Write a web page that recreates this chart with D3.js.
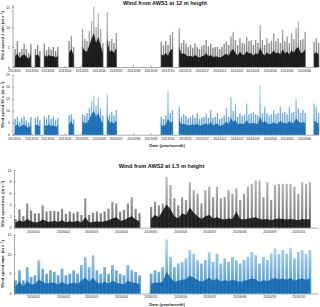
<!DOCTYPE html>
<html lang="en">
<head>
<meta charset="UTF-8">
<title>Wind AWS1 / AWS2</title>
<script src="https://cdnjs.cloudflare.com/ajax/libs/d3/7.8.5/d3.min.js"></script>
<style>
  body{margin:0;background:#fff;}
  svg{display:block;font-family:"Liberation Sans",Arial,sans-serif;}
  .tick text{fill:#262626;font-size:3.6px;font-family:"Liberation Sans",Arial,sans-serif;}
  .domain{stroke:#555;stroke-width:0.5;}
  .tick line{stroke:#555;stroke-width:0.5;}
</style>
</head>
<body>
<svg id="chart" width="320" height="307"></svg>
<script>
// values are per 4-day bin, null = no data
var binDays = 4;
var aws1Start = "2013-01-01";
var aws2Start = "2015-12-12";

// AWS1, 1 min wind speed: peak of the bin and the dense core
var aws1Min1Peak = [4.5,6.5,3.8,4.5,5.8,4.5,3.5,5.8,null,4.5,5.5,4.0,null,
  5.9,4.2,5.0,4.3,5.0,4.0,5.0,null,null,null,null,
  6.5,7.8,5.0,null,null,null,
  9.5,7.0,6.5,9.0,11.5,15.0,10.0,13.5,9.5,6.0,null,
  13.8,6.5,7.0,6.0,8.5,
  null,null,null,null,null,null,null,null,null,null,null,null,null,null,null,null,null,null,null,
  6.3,5.5,6.5,5.5,8.0,8.8,null,null,
  9.7,6.0,6.75,5.9,5.0,5.5,4.8,5.9,5.0,4.5,5.2,5.5,6.75,5.2,5.9,4.8,5.0,5.0,4.5,5.0,
  5.8,6.3,5.5,7.6,8.8,6.75,5.5,7.2,6.0,5.9,7.6,6.5,6.75,5.5,6.75,6.0,10.5,6.75,5.5,7.2,
  6.0,6.5,8.4,6.5,7.2,6.0,9.25,6.5,7.6,6.0,8.4,7.0,9.7,11.3,6.75,7.0,8.8,
  null,null,null,
  6.3,7.2,6.0];
var aws1Min1Core = [2.5,3.5,2.2,2.8,3.2,2.6,2.0,3.2,null,2.8,3.2,2.4,null,
  3.0,2.5,3.0,2.6,2.8,2.3,2.9,null,null,null,null,
  3.5,4.5,3.0,null,null,null,
  5.0,4.0,3.8,5.5,7.0,8.5,6.0,7.5,5.5,3.5,null,
  7.0,3.8,4.2,3.5,4.8,
  null,null,null,null,null,null,null,null,null,null,null,null,null,null,null,null,null,null,null,
  3.2,2.8,3.5,2.8,4.2,4.5,null,null,
  5.0,3.2,3.5,3.0,2.6,2.8,2.5,3.0,2.6,2.3,2.7,2.8,3.5,2.7,3.0,2.5,2.6,2.6,2.3,2.6,
  3.0,3.3,2.8,4.0,4.5,3.5,2.8,3.8,3.1,3.0,4.0,3.4,3.5,2.8,3.5,3.1,4.8,3.5,2.8,3.7,
  3.1,3.4,4.2,3.4,3.7,3.1,4.5,3.4,3.9,3.1,4.2,3.6,4.6,5.0,3.5,3.6,4.4,
  null,null,null,
  3.3,3.7,3.1];

// AWS1, 30 s wind speed
var aws1Sec30Peak = [6.5,7.5,5.5,7.0,7.5,6.0,5.0,7.5,null,7.0,7.5,6.0,null,
  7.5,6.5,8.2,6.5,7.5,6.0,7.0,null,null,null,null,
  8.0,8.5,6.5,null,null,null,
  8.5,8.0,9.0,11.0,14.0,16.2,12.0,15.8,11.0,8.0,null,
  17.0,8.5,9.6,8.0,10.3,
  null,null,null,null,null,null,null,null,null,null,null,null,null,null,null,null,null,null,null,
  7.5,6.5,8.0,18.6,9.0,10.3,null,null,
  11.7,7.5,8.5,7.8,6.8,7.2,8.2,7.0,9.0,6.5,7.2,7.5,8.8,7.0,10.3,7.0,7.5,9.0,6.5,7.0,
  8.0,11.0,7.5,15.8,10.0,13.0,7.5,9.0,8.0,8.5,13.0,8.5,9.0,9.6,8.5,8.0,20.7,9.0,11.7,9.0,
  8.0,8.5,10.3,8.5,9.0,11.7,9.0,9.6,8.5,11.7,9.0,9.5,15.0,11.0,9.0,10.3,9.0,
  null,null,null,
  13.0,11.7,9.0];
var aws1Sec30Core = [3.5,4.5,3.0,3.8,4.2,3.4,2.8,4.2,null,3.8,4.2,3.2,null,
  4.0,3.5,4.4,3.5,4.0,3.2,3.8,null,null,null,null,
  4.5,5.5,3.8,null,null,null,
  5.5,4.8,5.0,6.5,8.5,10.0,7.5,9.0,6.5,4.5,null,
  8.0,4.8,5.5,4.5,6.0,
  null,null,null,null,null,null,null,null,null,null,null,null,null,null,null,null,null,null,null,
  4.0,3.6,4.2,6.5,5.0,5.5,null,null,
  6.0,4.2,4.6,4.3,3.8,4.0,4.4,3.9,4.8,3.6,4.0,4.2,4.8,3.9,5.5,3.9,4.2,4.8,3.6,3.9,
  4.4,5.5,4.2,7.0,5.3,6.2,4.2,4.8,4.4,4.6,6.2,4.6,4.8,5.0,4.6,4.4,7.5,4.8,5.8,4.8,
  4.4,4.6,5.3,4.6,4.8,5.8,4.8,5.0,4.6,5.8,4.8,5.0,6.8,5.6,4.8,5.3,4.8,
  null,null,null,
  5.8,5.3,4.6];

// AWS2, average wind speed
var aws2AvePeak = [1.5,3.2,2.0,4.2,3.0,2.5,2.5,3.9,2.8,2.9,2.9,2.8,3.3,2.4,2.8,2.5,2.8,2.2,5.1,2.2,
  2.6,2.8,2.5,2.8,3.3,4.5,4.2,2.8,3.1,4.2,5.3,3.3,2.5,null,null,
  3.6,4.5,3.9,4.2,8.8,7.4,5.1,3.9,5.3,4.8,7.9,6.5,5.9,4.2,6.5,7.1,5.3,7.1,5.1,5.3,
  6.5,5.9,6.8,4.8,5.9,7.1,7.6,8.2,8.2,5.3,7.9,4.8,7.4,7.6,7.6,7.6,7.6,7.1,5.9,7.9,
  7.6,7.9];
var aws2AveCore = [0.9,1.3,1.0,1.5,1.1,0.9,1.0,1.4,1.1,1.0,1.2,1.0,1.3,0.9,1.1,1.0,1.2,0.9,1.8,0.9,
  1.0,1.1,1.0,1.1,1.3,1.6,1.8,1.2,1.3,1.7,2.0,1.4,1.1,null,null,
  1.6,2.2,1.8,3.0,4.0,3.2,2.0,1.6,2.5,2.2,3.5,2.6,2.0,1.5,2.0,2.2,1.6,1.8,1.5,1.4,
  1.6,1.5,2.8,1.5,1.4,1.6,1.7,1.8,1.5,1.4,1.5,1.3,1.5,1.6,1.5,1.4,1.5,1.4,1.3,1.5,
  1.4,1.5];

// AWS2, maximum wind speed
var aws2MaxPeak = [3.3,5.9,3.3,6.7,4.2,4.6,8.4,6.3,5.0,5.9,5.5,4.6,6.3,4.6,5.0,5.9,5.0,7.2,9.3,6.7,
  9.7,5.9,5.0,6.7,5.0,7.2,5.9,5.0,4.6,7.2,5.9,5.5,4.6,null,null,
  5.0,5.9,5.5,6.7,13.7,9.3,6.7,7.6,8.0,8.9,11.0,10.1,8.4,7.6,8.5,10.5,8.0,10.1,7.6,8.9,
  8.0,9.3,8.4,7.6,8.5,9.3,10.5,9.7,7.6,9.3,8.5,10.1,11.4,10.0,11.0,10.1,11.4,8.9,10.5,11.0,
  10.0,11.0];
var aws2MaxCore = [1.8,3.0,1.8,3.2,2.2,2.4,3.5,3.0,2.5,2.8,2.7,2.3,3.0,2.3,2.5,2.8,2.5,3.2,4.0,3.0,
  4.0,2.8,2.5,3.0,2.5,3.2,2.8,2.5,2.3,3.2,2.8,2.7,2.3,null,null,
  2.5,2.8,2.7,3.0,5.5,4.0,3.0,3.2,3.5,3.6,4.5,4.0,3.4,3.0,3.4,4.0,3.2,3.8,3.0,3.4,
  3.1,3.5,3.2,2.9,3.2,3.5,3.8,3.6,2.9,3.4,3.1,3.6,3.9,3.6,3.8,3.5,3.9,3.2,3.6,3.8,
  3.5,3.8];

var aws1Ticks1 = [0,5,10,15];
var aws1Ticks2 = [0,5,10,15,20,25];
var aws2Ticks1 = [0,2,4,6,8,10];
var aws2Ticks2 = [0,5,10,15];

var svg = d3.select("#chart");
var defs = svg.append("defs");

// time scales, extended so the axes run from the left axis to the right edge
var x1base = d3.scaleUtc().domain([new Date("2013-01-01"), new Date("2014-06-01")]).range([14,304]);
var x1 = d3.scaleUtc().domain([x1base.invert(12.5), x1base.invert(318)]).range([12.5,318]);
var x2base = d3.scaleUtc().domain([new Date("2016-01-01"), new Date("2016-10-01")]).range([33,298.3]);
var x2 = d3.scaleUtc().domain([x2base.invert(14), x2base.invert(318)]).range([14,318]);

function binDate(start, i){
  return d3.utcDay.offset(new Date(start), i*binDays + binDays/2);
}

function panel(o){
  var g = svg.append("g");
  var pts = o.peak.map(function(v,i){
    return {t: binDate(o.start,i), peak: v, core: o.core[i]};
  });

  // spikes fade from mid tone near the ground to a light tone at the top
  var grad = defs.append("linearGradient").attr("id",o.id)
    .attr("gradientUnits","userSpaceOnUse")
    .attr("x1",0).attr("x2",0).attr("y1",o.y(0)).attr("y2",o.y(o.fadeTop));
  grad.append("stop").attr("offset",0).attr("stop-color",o.mid);
  grad.append("stop").attr("offset",1).attr("stop-color",o.light);

  g.selectAll("line.spike")
    .data(pts.filter(function(d){ return d.peak != null; }))
    .enter()
    .append("line")
    .attr("class","spike")
    .attr("x1",function(d){ return o.x(d.t); })
    .attr("x2",function(d){ return o.x(d.t); })
    .attr("y1",o.y(0))
    .attr("y2",function(d){ return o.y(d.peak); })
    .attr("stroke","url(#"+o.id+")")
    .attr("stroke-width",o.w);

  var area = d3.area()
    .defined(function(d){ return d.core != null; })
    .x(function(d){ return o.x(d.t); })
    .y0(o.y(0))
    .y1(function(d){ return o.y(d.core); });
  g.append("path").datum(pts).attr("d",area).attr("fill",o.dark).attr("fill-opacity",0.9);

  g.append("g")
    .attr("transform","translate("+o.x.range()[0]+",0)")
    .call(d3.axisLeft(o.y).tickValues(o.ticks).tickSize(-1.5).tickSizeOuter(0).tickPadding(2.5));

  g.append("g")
    .attr("transform","translate(0,"+o.y(0)+")")
    .call(d3.axisBottom(o.x).ticks(d3.utcMonth.every(1)).tickFormat(d3.utcFormat("%Y/%m"))
      .tickSize(-1.5).tickSizeOuter(0).tickPadding(2.3));

  var cy = (o.y.range()[0] + o.y.range()[1]) / 2 + (o.labelShift || 0);
  var t = svg.append("text")
    .attr("transform","translate(4.2,"+cy+") rotate(-90)")
    .attr("text-anchor","middle")
    .attr("font-size",4.1)
    .attr("font-weight","bold")
    .attr("fill","#262626");
  t.append("tspan").text(o.label+" (m s");
  t.append("tspan").attr("font-size",2.8).attr("dy",-1.3).text("−1");
  t.append("tspan").attr("dy",1.3).text(")");
}

panel({id:"g1", x:x1, y:d3.scaleLinear().domain([0,15.75]).range([67,4]), ticks:aws1Ticks1,
  start:aws1Start, peak:aws1Min1Peak, core:aws1Min1Core,
  mid:"#6a6a6a", light:"#bdbdbd", fadeTop:12, dark:"#0d0d0d", w:1.4,
  label:"Wind speed 1 min"});
panel({id:"g2", x:x1, y:d3.scaleLinear().domain([0,25]).range([134.7,74.7]), ticks:aws1Ticks2,
  start:aws1Start, peak:aws1Sec30Peak, core:aws1Sec30Core,
  mid:"#3d8bcb", light:"#bcdaf1", fadeTop:18, dark:"#1468b0", w:1.4,
  label:"Wind speed 30 s"});
panel({id:"g3", x:x2, y:d3.scaleLinear().domain([0,10]).range([227.7,170]), ticks:aws2Ticks1,
  start:aws2Start, peak:aws2AvePeak, core:aws2AveCore,
  mid:"#707070", light:"#c2c2c2", fadeTop:9, dark:"#141414", w:2.2,
  label:"Wind speed ave.", labelShift:5});
panel({id:"g4", x:x2, y:d3.scaleLinear().domain([0,15]).range([293.5,234.3]), ticks:aws2Ticks2,
  start:aws2Start, peak:aws2MaxPeak, core:aws2MaxCore,
  mid:"#3f8dcc", light:"#b3d5ef", fadeTop:12, dark:"#1468b0", w:2.8,
  label:"Wind speed max."});

svg.append("text").attr("x",165).attr("y",5.2).attr("text-anchor","middle")
  .attr("font-size",5.6).attr("font-weight","bold").attr("fill","#111")
  .text("Wind from AWS1 at 12 m height");
svg.append("text").attr("x",161.5).attr("y",167.6).attr("text-anchor","middle")
  .attr("font-size",5.6).attr("font-weight","bold").attr("fill","#111")
  .text("Wind from AWS2 at 1.5 m height");

svg.append("text").attr("x",167).attr("y",146.8).attr("text-anchor","middle")
  .attr("font-size",4.2).attr("font-weight","bold").attr("fill","#262626")
  .text("Date (year/month)");
svg.append("text").attr("x",167).attr("y",305.6).attr("text-anchor","middle")
  .attr("font-size",4.2).attr("font-weight","bold").attr("fill","#262626")
  .text("Date (year/month)");
</script>
</body>
</html>
